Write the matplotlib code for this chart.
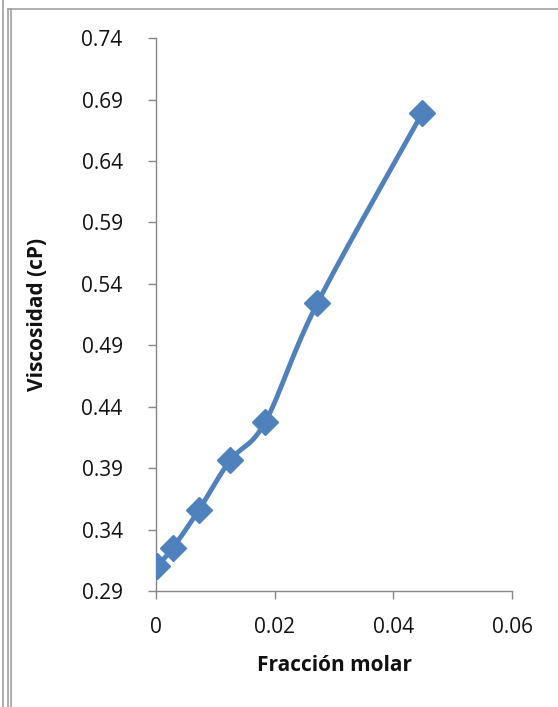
import numpy as np
import matplotlib.pyplot as plt
from matplotlib.lines import Line2D

# Data
fraccion = [0.0002, 0.0028, 0.0072, 0.0125, 0.0184, 0.0272, 0.0449]
viscosidad = [0.3105, 0.3249, 0.3558, 0.3964, 0.4275, 0.5244, 0.6792]
x_ticks = [0, 0.02, 0.04, 0.06]
y_ticks = [0.29, 0.34, 0.39, 0.44, 0.49, 0.54, 0.59, 0.64, 0.69, 0.74]

color = '#4F81BD'
axis_gray = '#868686'


def smooth(xs, ys, n=30):
    # Excel-like smoothed line (Catmull-Rom style Bezier)
    p = np.column_stack([xs, ys])
    # normalise so the curve is smooth on screen
    sx = np.ptp(xs)
    sy = np.ptp(ys)
    q = p / [sx, sy]
    out = []
    for i in range(len(q) - 1):
        p0 = q[i - 1] if i > 0 else q[i]
        p1 = q[i]
        p2 = q[i + 1]
        p3 = q[i + 2] if i + 2 < len(q) else q[i + 1]
        c1 = p1 + (p2 - p0) / 6
        c2 = p2 - (p3 - p1) / 6
        t = np.linspace(0, 1, n)[:, None]
        seg = ((1 - t) ** 3 * p1 + 3 * (1 - t) ** 2 * t * c1
               + 3 * (1 - t) * t ** 2 * c2 + t ** 3 * p2)
        out.append(seg)
    out = np.vstack(out) * [sx, sy]
    return out[:, 0], out[:, 1]


plt.rcParams['font.family'] = ['Open Sans', 'DejaVu Sans']

fig = plt.figure(figsize=(5.58, 7.07), dpi=100)
ax = fig.add_axes([0.2796, 0.164, 0.638, 0.782])

sx, sy = smooth(fraccion, viscosidad)
ax.plot(sx, sy, color=color, lw=3.5, solid_capstyle='round', zorder=2)
ax.plot(fraccion, viscosidad, ls='none', marker='D', ms=13,
        color=color, mec=color, zorder=3)

ax.set_xlim(0, 0.06)
ax.set_ylim(0.29, 0.74)
ax.set_xticks(x_ticks)
ax.set_xticklabels(['0', '0.02', '0.04', '0.06'])
ax.set_yticks(y_ticks)
ax.set_yticklabels([f'{v:.2f}' for v in y_ticks])

for s in ['top', 'right']:
    ax.spines[s].set_visible(False)
for s in ['left', 'bottom']:
    ax.spines[s].set_color(axis_gray)
    ax.spines[s].set_linewidth(1.0)
ax.tick_params(axis='both', colors=axis_gray, length=6, width=1.0,
               labelsize=15, labelcolor='#111111')
ax.tick_params(axis='y', pad=18)
ax.tick_params(axis='x', pad=13)

ax.set_xlabel('Fracción molar', fontsize=15, fontweight='bold',
              color='#111111', labelpad=12)
ax.set_ylabel('Viscosidad (cP)', fontsize=15, fontweight='bold',
              color='#111111', labelpad=24)

# outer frame lines like the screenshot
W, H = 558, 707
for xp in [3, 8, 11]:
    fig.add_artist(Line2D([xp / W, xp / W], [0, 1 - 9 / H if xp > 3 else 1],
                          color='#a0a0a0', lw=1.2))
fig.add_artist(Line2D([8 / W, 1], [1 - 9 / H, 1 - 9 / H],
                      color='#a0a0a0', lw=1.2))

plt.savefig('out.png', dpi=100)
